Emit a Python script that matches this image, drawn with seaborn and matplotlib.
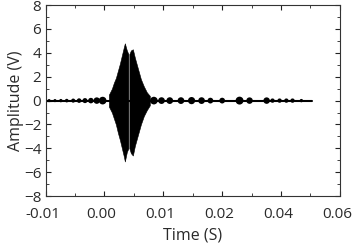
import numpy as np
import matplotlib
matplotlib.use("Agg")
import matplotlib.pyplot as plt
import matplotlib.transforms as mtrans
import seaborn as sns

# burst envelope (s, V), split at the thin white gap
burst_t1 = [0.00076, 0.00127, 0.00161, 0.00195, 0.00229, 0.00263, 0.00297, 0.00331, 0.00347, 0.00381, 0.00407]
burst_hi1 = [0.5, 1.0, 1.5, 1.9, 2.5, 3.1, 3.8, 4.5, 4.8, 4.2, 3.9]
burst_lo1 = [-0.5, -1.0, -1.5, -2.0, -2.7, -3.3, -4.0, -4.7, -5.1, -4.3, -4.0]
burst_t2 = [0.00424, 0.00449, 0.00483, 0.00517, 0.00551, 0.00585, 0.00619, 0.00669, 0.00720, 0.00771]
burst_hi2 = [3.9, 4.2, 4.3, 3.6, 3.0, 2.4, 1.8, 1.2, 0.7, 0.4]
burst_lo2 = [-4.0, -4.4, -4.6, -3.8, -3.2, -2.6, -2.0, -1.3, -0.8, -0.4]

# small wave packets along the zero line
bead_t = [-0.0094, -0.0084, -0.0074, -0.0064, -0.0053, -0.0043, -0.0033, -0.0023, -0.0013,
          -0.0003, 0.0084, 0.0097, 0.0111, 0.0130, 0.0148, 0.0165, 0.0180, 0.0200,
          0.0259, 0.0293, 0.0351, 0.0371, 0.0395, 0.0418, 0.0439, 0.0469]
bead_amp = [0.13, 0.13, 0.14, 0.15, 0.17, 0.19, 0.21, 0.23, 0.27, 0.32, 0.32, 0.28, 0.28,
            0.28, 0.3, 0.28, 0.24, 0.24, 0.33, 0.27, 0.27, 0.18, 0.18, 0.18, 0.18, 0.14]

line_t = [-0.01, 0.0506]
line_v = [0.0, 0.0]

x_ticks = [-0.01, 0.00, 0.01, 0.02, 0.04, 0.06]
x_minor = [-0.005, 0.005, 0.015, 0.03, 0.05]
y_ticks = [-8, -6, -4, -2, 0, 2, 4, 6, 8]


def fwd(t):
    t = np.asarray(t, dtype=float)
    return np.where(t <= 0.02, t, 0.02 + (t - 0.02) / 2)


def inv(p):
    p = np.asarray(p, dtype=float)
    return np.where(p <= 0.02, p, 0.02 + (p - 0.02) * 2)


sns.set_style("ticks")
plt.rcParams['font.family'] = ['Open Sans', 'DejaVu Sans']

fig = plt.figure(figsize=(3.53, 2.43), dpi=100)
ax = fig.add_axes([0.129, 0.193, 0.834, 0.786])
ax.set_xscale("function", functions=(fwd, inv))

sns.lineplot(x=line_t, y=line_v, color="black", linewidth=1.5, ax=ax)
ax.fill_between(burst_t1, burst_lo1, burst_hi1, color="black", linewidth=0.4)
ax.fill_between(burst_t2, burst_lo2, burst_hi2, color="black", linewidth=0.4)

px_per_v = 12.0
sizes = [(2 * a * px_per_v * 0.72) ** 2 for a in bead_amp]
ax.scatter(bead_t, [0] * len(bead_t), s=sizes, color="black", linewidths=0, zorder=3)

ax.set_xlim(-0.01, 0.06)
ax.set_ylim(-8, 8)
ax.set_xticks(x_ticks)
ax.set_xticklabels(["%.2f" % v for v in x_ticks])
ax.set_xticks(x_minor, minor=True)
ax.set_yticks(y_ticks)
ax.set_yticks(range(-7, 8, 2), minor=True)

ax.tick_params(which="both", direction="in", top=True, right=True, colors="#222222",
               labelsize=11, labelcolor="#2a2a2a")
ax.tick_params(axis="x", which="major", pad=7.5)
ax.tick_params(axis="y", which="major", pad=3)
ax.tick_params(which="major", length=3.5, width=0.8)
ax.tick_params(which="minor", length=2, width=0.6)
for s in ax.spines.values():
    s.set_color("#333333")
    s.set_linewidth(0.8)

shift = mtrans.ScaledTranslation(-3 / 100, 0, fig.dpi_scale_trans)
for lab in ax.get_xticklabels():
    lab.set_transform(lab.get_transform() + shift)

ax.set_xlabel("Time (S)", fontsize=11.5, color="#2a2a2a", labelpad=4.5)
ax.set_ylabel("Amplitude (V)", fontsize=11.5, color="#2a2a2a", labelpad=0)

fig.savefig("out.png", dpi=100)
